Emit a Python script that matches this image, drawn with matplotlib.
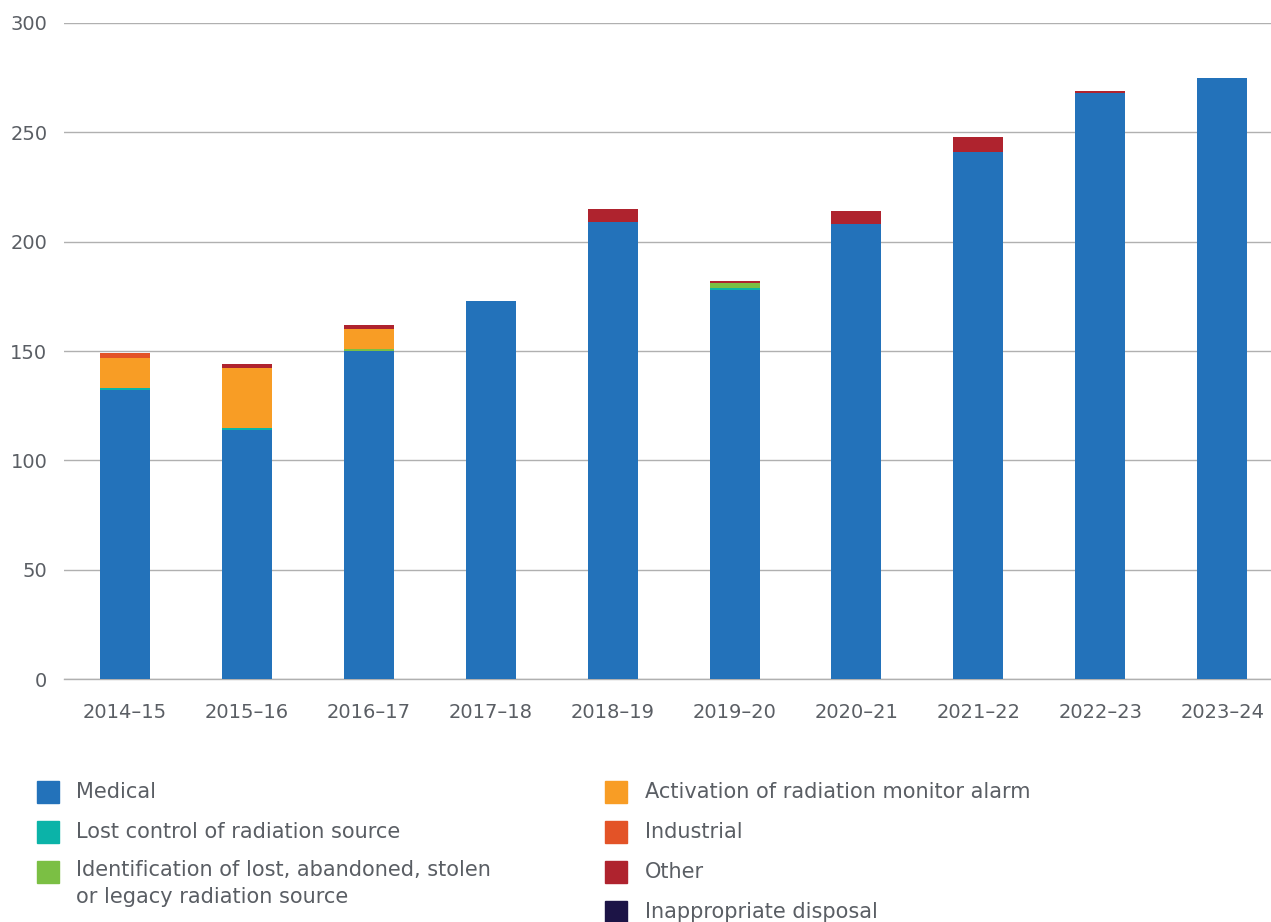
import matplotlib
matplotlib.use("Agg")
import matplotlib.pyplot as plt
from matplotlib.patches import Rectangle
import numpy as np

plt.rcParams['font.family'] = ['DejaVu Sans']

# financial years on the x axis
years = ['2014–15', '2015–16', '2016–17', '2017–18', '2018–19',
         '2019–20', '2020–21', '2021–22', '2022–23', '2023–24']

# counts per category
medical = [132, 114, 150, 173, 209, 178, 208, 241, 268, 275]
lost_control = [1, 1, 0, 0, 0, 1, 0, 0, 0, 0]
identification = [0, 0, 1, 0, 0, 2, 0, 0, 0, 0]
activation = [14, 27, 9, 0, 0, 0, 0, 0, 0, 0]
industrial = [2, 0, 0, 0, 0, 0, 0, 0, 0, 0]
other = [0, 2, 2, 0, 6, 1, 6, 7, 1, 0]
disposal = [0, 0, 0, 0, 0, 0, 0, 0, 0, 0]

labels = ['Medical', 'Lost control of radiation source',
          'Identification of lost, abandoned, stolen\nor legacy radiation source',
          'Activation of radiation monitor alarm', 'Industrial', 'Other',
          'Inappropriate disposal']
series = [medical, lost_control, identification, activation, industrial, other, disposal]
colours = ['#2372ba', '#0bb3a8', '#7bbf44', '#f89d25', '#e35327', '#af232e', '#1c1446']

text_col = '#5a5e64'
fs = 14
leg_fs = 15

fig = plt.figure(figsize=(12.71, 9.22), dpi=100)
ax = fig.add_axes([64 / 1271, (922 - 679) / 922, (1271 - 64) / 1271, (679 - 23) / 922])

x = np.arange(len(years))
bottom = np.zeros(len(years))
for vals, col in zip(series, colours):
    ax.bar(x, vals, width=0.41, bottom=bottom, color=col, zorder=3)
    bottom += np.array(vals)

ax.set_xlim(-0.5, 9.4)
ax.set_ylim(0, 300)
ax.set_yticks(range(0, 301, 50))
ax.yaxis.grid(True, color='#b0b0b0', linewidth=1, zorder=0)
ax.axhline(0, color='#b0b0b0', linewidth=1, zorder=2, clip_on=False)
for s in ax.spines.values():
    s.set_visible(False)
ax.tick_params(length=0, labelsize=fs, labelcolor=text_col)
ax.tick_params(axis='y', pad=12)
ax.tick_params(axis='x', pad=17)
ax.set_xticks(x)
ax.set_xticklabels(years)

# legend drawn by hand in two columns
W, H = 1271, 922
left_rows = [792, 832, 872]
right_rows = [792, 832, 872, 912]
pos = [(37, 76, y) for y in left_rows] + [(605, 645, y) for y in right_rows]
for (sx, tx, yc), lab, col in zip(pos, labels, colours):
    fig.patches.append(Rectangle((sx / W, 1 - (yc + 11) / H), 22 / W, 22 / H,
                                 transform=fig.transFigure, color=col))
    if '\n' in lab:
        fig.text(tx / W, 1 - (yc - 12) / H, lab, fontsize=leg_fs, color=text_col,
                 va='top', ha='left', linespacing=1.45)
    else:
        fig.text(tx / W, 1 - yc / H, lab, fontsize=leg_fs, color=text_col,
                 va='center', ha='left')

fig.savefig('out.png', dpi=100)
